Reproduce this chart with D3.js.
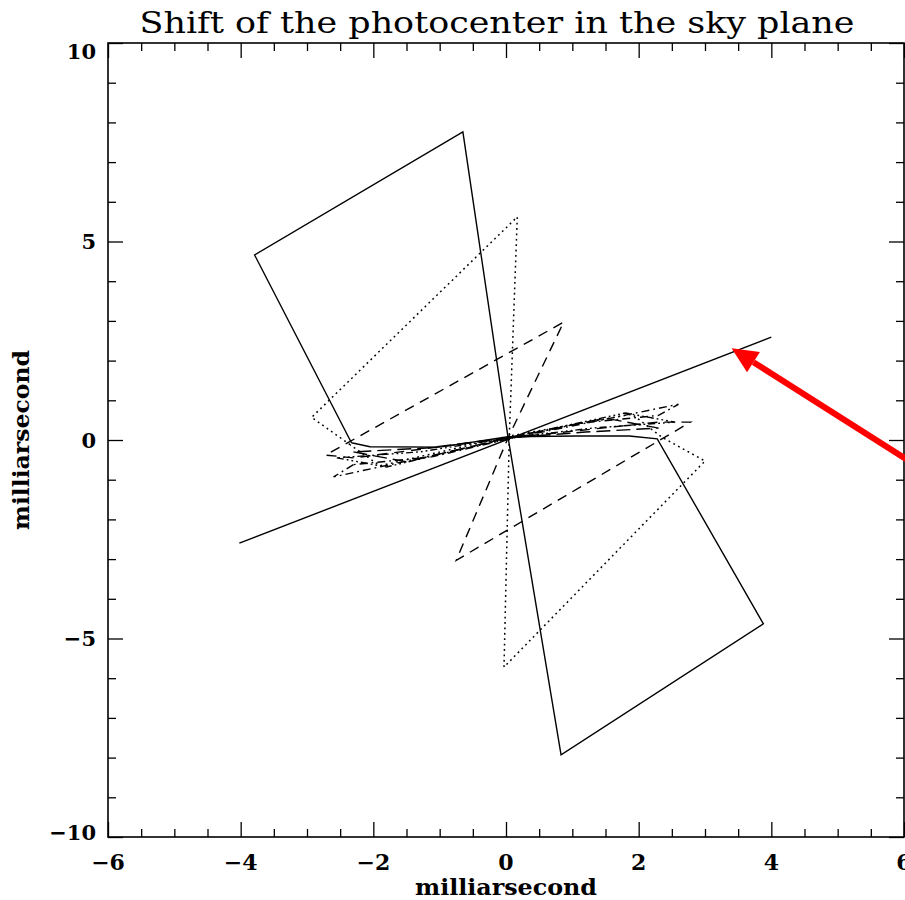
<!DOCTYPE html>
<html>
<head>
<meta charset="utf-8">
<script src="https://cdn.jsdelivr.net/npm/d3@7"></script>
<style>
  html, body { margin: 0; padding: 0; background: #fff; overflow: hidden; }
  svg { display: block; }
</style>
</head>
<body>
<svg id="chart" width="905" height="900"></svg>
<script>
// ---------- data (milliarcsecond) ----------
const titleText = "Shift of the photocenter in the sky plane";
const xLabelText = "milliarsecond";
const yLabelText = "milliarsecond";
const xDomain = [-6, 6];
const yDomain = [-10, 10];
const xMajorTicks = [-6, -4, -2, 0, 2, 4, 6];
const yMajorTicks = [-10, -5, 0, 5, 10];
const xMinorStep = 0.5;
const yMinorStep = 1;

// solid loop (largest)
const solidLoop = [[-2.33,-0.07],[-3.79,4.66],[-0.65,7.76],[0.03,0.08],[0.83,-7.93],[3.88,-4.63],
  [2.28,0.03],[1.86,0.1],[1.06,0.1],[0.03,0.08],[-1.0,-0.18],[-2.05,-0.17],[-2.33,-0.07]];
// solid straight segment
const solidLine = [[-4.02,-2.6],[4.0,2.59]];
// dotted loop
const dottedLoop = [[-2.35,-0.12],[-2.93,0.57],[0.17,5.62],[0.05,0.1],[-0.03,-5.72],[3.0,-0.53],
  [2.35,0.07],[1.9,0.65],[0.05,0.1],[-1.9,-0.65],[-2.35,-0.12]];
// dashed loop
const dashedLoop = [[-2.3,-0.45],[-2.72,-0.38],[0.87,2.97],[0.03,0.05],[-0.75,-3.03],[2.78,0.45],
  [2.3,0.45],[0.03,0.05],[-2.3,-0.45]];
// dash-dot loop
const dashDotLoop = [[-2.3,-0.62],[-2.6,-0.93],[0.02,0.02],[2.6,0.9],[2.3,0.62],[1.1,0.42],[0.02,0.02],
  [-1.1,-0.42],[-2.3,-0.62]];
// dash-dot-dot-dot loop
const dash3DotLoop = [[-2.55,-0.45],[-1.8,-0.68],[0.02,0.05],[1.8,0.68],[2.55,0.45],[1.3,0.3],[0.02,0.05],
  [-1.3,-0.3],[-2.55,-0.45]];
// long-dash loop
const longDashLoop = [[-2.3,-0.3],[-1.5,-0.55],[0.02,0.05],[1.5,0.55],[2.3,0.3],[1.2,0.2],[0.02,0.05],
  [-1.2,-0.2],[-2.3,-0.3]];

// red arrow annotation (tail -> tip)
const arrowTail = [6.05, -0.5];
const arrowTip = [3.4, 2.31];

const curves = [
  {pts: solidLoop,    dash: null,                 w: 1.4},
  {pts: solidLine,    dash: null,                 w: 1.4},
  {pts: dottedLoop,   dash: "1.8,3.6",            w: 1.5},
  {pts: dashedLoop,   dash: "10,7",               w: 1.4},
  {pts: dashDotLoop,  dash: "8,4,1.8,4",          w: 1.4},
  {pts: dash3DotLoop, dash: "7,3,1.8,3,1.8,3,1.8,3", w: 1.4},
  {pts: longDashLoop, dash: "14,6",               w: 1.4}
];

// ---------- layout ----------
const svg = d3.select("#chart");
const L = 108, R = 904, T = 43, B = 837;
const x = d3.scaleLinear().domain(xDomain).range([L, R]);
const y = d3.scaleLinear().domain(yDomain).range([B, T]);

const serif = "'DejaVu Serif', 'Liberation Serif', serif";

// data lines
const line = d3.line().x(d => x(d[0])).y(d => y(d[1]));
const g = svg.append("g");
curves.forEach(c => {
  g.append("path").attr("d", line(c.pts)).attr("fill", "none")
    .attr("stroke", "#000").attr("stroke-width", c.w)
    .attr("stroke-dasharray", c.dash).attr("stroke-linejoin", "miter");
});

// axes (ticks on all four sides, inward)
const xMinor = d3.range(xDomain[0], xDomain[1] + 1e-9, xMinorStep).filter(v => !xMajorTicks.includes(v));
const yMinor = d3.range(yDomain[0], yDomain[1] + 1e-9, yMinorStep).filter(v => !yMajorTicks.includes(v));

function styleAxis(sel) {
  sel.select(".domain").remove();
  sel.selectAll(".tick line").attr("stroke", "#000").attr("stroke-width", 1.3);
}
const big = 15, small = 8;
// bottom
svg.append("g").attr("transform", `translate(0,${B})`)
  .call(d3.axisTop(x).tickValues(xMajorTicks).tickSize(big).tickFormat("")).call(styleAxis);
svg.append("g").attr("transform", `translate(0,${B})`)
  .call(d3.axisTop(x).tickValues(xMinor).tickSize(small).tickFormat("")).call(styleAxis);
// top
svg.append("g").attr("transform", `translate(0,${T})`)
  .call(d3.axisBottom(x).tickValues(xMajorTicks).tickSize(big).tickFormat("")).call(styleAxis);
svg.append("g").attr("transform", `translate(0,${T})`)
  .call(d3.axisBottom(x).tickValues(xMinor).tickSize(small).tickFormat("")).call(styleAxis);
// left
svg.append("g").attr("transform", `translate(${L},0)`)
  .call(d3.axisRight(y).tickValues(yMajorTicks).tickSize(big).tickFormat("")).call(styleAxis);
svg.append("g").attr("transform", `translate(${L},0)`)
  .call(d3.axisRight(y).tickValues(yMinor).tickSize(small).tickFormat("")).call(styleAxis);
// right
svg.append("g").attr("transform", `translate(${R},0)`)
  .call(d3.axisLeft(y).tickValues(yMajorTicks).tickSize(big).tickFormat("")).call(styleAxis);
svg.append("g").attr("transform", `translate(${R},0)`)
  .call(d3.axisLeft(y).tickValues(yMinor).tickSize(small).tickFormat("")).call(styleAxis);

// frame
svg.append("rect").attr("x", L).attr("y", T).attr("width", R - L).attr("height", B - T)
  .attr("fill", "none").attr("stroke", "#000").attr("stroke-width", 1.6);

// tick labels
const fmt = v => (v < 0 ? "\u2212" + Math.abs(v) : String(v));
svg.append("g").selectAll("text").data(xMajorTicks).join("text")
  .attr("x", d => x(d)).attr("y", B + 33)
  .attr("text-anchor", "middle").attr("font-family", serif).attr("font-weight", "bold")
  .attr("font-size", 22).text(fmt);
svg.append("g").selectAll("text").data(yMajorTicks).join("text")
  .attr("x", L - 12).attr("y", d => Math.min(Math.max(y(d), T + 8), B - 5)).attr("dy", "0.36em")
  .attr("text-anchor", "end").attr("font-family", serif).attr("font-weight", "bold")
  .attr("font-size", 21).text(fmt);

// axis titles
svg.append("text").attr("x", x(0)).attr("y", 895).attr("text-anchor", "middle")
  .attr("font-family", serif).attr("font-weight", "bold").attr("font-size", 22)
  .attr("textLength", 182).attr("lengthAdjust", "spacingAndGlyphs").text(xLabelText);
svg.append("text").attr("transform", `translate(29,${y(0)}) rotate(-90)`).attr("text-anchor", "middle")
  .attr("font-family", serif).attr("font-weight", "bold").attr("font-size", 22)
  .attr("textLength", 180).attr("lengthAdjust", "spacingAndGlyphs").text(yLabelText);

// title
svg.append("text").attr("x", 497).attr("y", 33).attr("text-anchor", "middle")
  .attr("font-family", serif).attr("font-size", 29)
  .attr("textLength", 715).attr("lengthAdjust", "spacingAndGlyphs").text(titleText);

// red arrow
const tx = x(arrowTip[0]), ty = y(arrowTip[1]);
const sx = x(arrowTail[0]), sy = y(arrowTail[1]);
const ang = Math.atan2(ty - sy, tx - sx);
const headLen = 26, headHalf = 12;
const bx = tx - headLen * Math.cos(ang), by = ty - headLen * Math.sin(ang);
svg.append("line").attr("x1", sx).attr("y1", sy).attr("x2", bx).attr("y2", by)
  .attr("stroke", "#ff0000").attr("stroke-width", 6);
const px = -Math.sin(ang), py = Math.cos(ang);
svg.append("path")
  .attr("d", `M${tx},${ty}L${bx + headHalf * px},${by + headHalf * py}L${bx - headHalf * px},${by - headHalf * py}Z`)
  .attr("fill", "#ff0000");
</script>
</body>
</html>
